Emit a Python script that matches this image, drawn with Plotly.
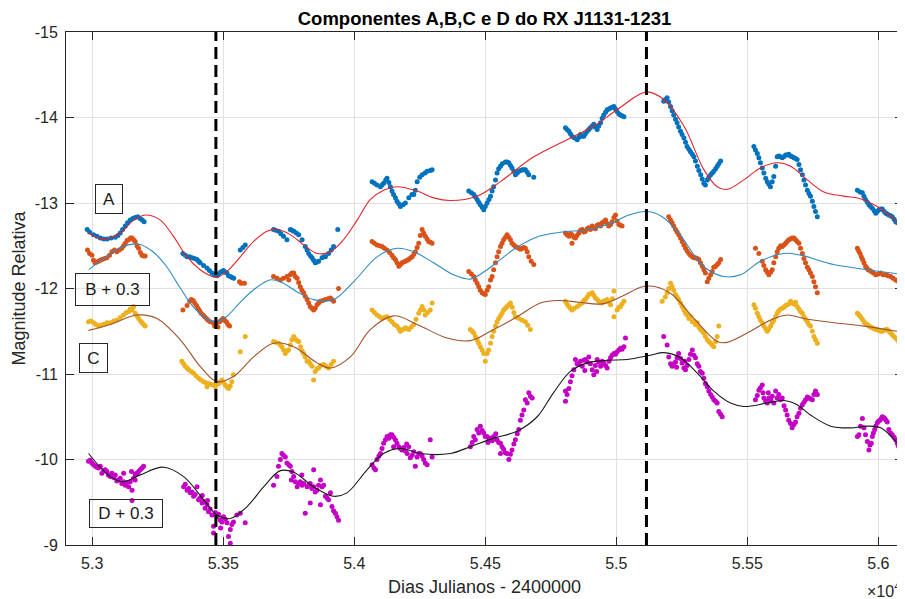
import plotly.graph_objects as go

# ---------------- data ----------------
x_tick_vals = [53000, 53500, 54000, 54500, 55000, 55500, 56000]
x_tick_text = ["5.3", "5.35", "5.4", "5.45", "5.5", "5.55", "5.6"]
y_tick_vals = [-15, -14, -13, -12, -11, -10, -9]
y_tick_text = ["-15", "-14", "-13", "-12", "-11", "-10", "-9"]
event_jd = [53472, 55115]

a_pts = [
    (52981,-12.69),(52990,-12.66),(53005,-12.63),(53018,-12.61),(53031,-12.59),(53044,-12.58),(53057,-12.58),
    (53072,-12.59),(53088,-12.60),(53098,-12.62),(53107,-12.65),(53116,-12.69),(53126,-12.73),(53135,-12.77),
    (53145,-12.80),(53155,-12.82),(53164,-12.83),(53174,-12.84),(53183,-12.82),(53191,-12.80),(53198,-12.78),
    (53346,-12.41),(53355,-12.39),(53362,-12.37),(53372,-12.37),(53381,-12.36),(53390,-12.35),(53400,-12.34),
    (53406,-12.32),(53412,-12.30),(53425,-12.27),(53438,-12.24),(53447,-12.21),(53457,-12.18),(53466,-12.16),
    (53476,-12.15),(53482,-12.17),(53489,-12.19),(53495,-12.20),(53501,-12.21),(53508,-12.19),(53514,-12.18),
    (53520,-12.15),(53527,-12.14),(53534,-12.13),(53540,-12.12),(53565,-12.45),(53575,-12.48),(53584,-12.51),
    (53692,-12.69),(53700,-12.68),(53711,-12.67),(53720,-12.64),(53730,-12.61),(53743,-12.57),(53756,-12.69),
    (53762,-12.68),(53769,-12.67),(53779,-12.65),(53788,-12.63),(53801,-12.57),(53813,-12.49),(53820,-12.45),
    (53826,-12.41),(53833,-12.38),(53839,-12.36),(53845,-12.33),(53851,-12.30),(53858,-12.31),(53864,-12.32),
    (53877,-12.36),(53884,-12.37),(53890,-12.37),(53902,-12.41),(53912,-12.45),(53921,-12.49),(53937,-12.69),
    (54068,-13.25),(54077,-13.23),(54087,-13.21),(54100,-13.19),(54106,-13.21),(54112,-13.23),(54120,-13.27),
    (54125,-13.29),(54132,-13.24),(54138,-13.19),(54144,-13.14),(54150,-13.10),(54157,-13.06),(54163,-13.02),
    (54170,-12.99),(54176,-12.96),(54186,-12.98),(54195,-13.00),(54208,-13.06),(54220,-13.10),(54227,-13.10),
    (54233,-13.15),(54240,-13.25),(54250,-13.30),(54259,-13.33),(54270,-13.35),(54278,-13.37),(54290,-13.38),
    (54297,-13.39),
    (54437,-13.14),(54447,-13.12),(54456,-13.10),(54463,-13.07),(54469,-13.04),(54475,-13.01),(54481,-12.98),
    (54488,-12.95),(54494,-12.92),(54500,-12.96),(54507,-13.00),(54514,-13.04),(54520,-13.08),(54526,-13.14),
    (54532,-13.19),(54539,-13.27),(54545,-13.35),(54551,-13.40),(54558,-13.43),(54565,-13.46),(54577,-13.48),
    (54583,-13.48),(54590,-13.47),(54596,-13.44),(54602,-13.41),(54609,-13.37),(54615,-13.33),(54622,-13.35),
    (54628,-13.37),(54635,-13.38),(54641,-13.39),(54647,-13.39),(54653,-13.39),(54660,-13.36),(54666,-13.33),
    (54685,-13.30),
    (54806,-13.88),(54812,-13.86),(54819,-13.84),(54825,-13.81),(54831,-13.78),(54840,-13.76),(54851,-13.74),
    (54857,-13.77),(54863,-13.80),(54870,-13.78),(54876,-13.78),(54882,-13.81),(54889,-13.84),(54895,-13.86),
    (54901,-13.88),(54908,-13.90),(54914,-13.92),(54920,-13.89),(54927,-13.86),(54933,-13.90),(54940,-13.94),
    (54946,-13.99),(54952,-14.03),(54959,-14.06),(54965,-14.09),(54972,-14.10),(54978,-14.11),(54985,-14.12),
    (54991,-14.13),(54997,-14.10),(55003,-14.07),(55010,-14.04),(55016,-14.03),(55022,-14.02),(55029,-14.01),
    (55181,-14.19),(55187,-14.21),(55194,-14.23),(55200,-14.18),(55207,-14.13),(55213,-14.08),(55219,-14.03),
    (55226,-13.98),(55232,-13.94),(55238,-13.89),(55245,-13.84),(55251,-13.80),(55258,-13.76),(55264,-13.71),
    (55270,-13.66),(55277,-13.63),(55283,-13.60),(55290,-13.57),(55296,-13.54),(55302,-13.49),(55309,-13.43),
    (55315,-13.38),(55322,-13.33),(55328,-13.28),(55334,-13.23),(55340,-13.21),(55347,-13.27),(55353,-13.30),
    (55360,-13.33),(55366,-13.35),(55372,-13.37),(55379,-13.40),(55385,-13.43),(55391,-13.46),(55398,-13.49),
    (55525,-13.66),(55531,-13.62),(55538,-13.58),(55544,-13.53),(55550,-13.47),(55557,-13.41),(55563,-13.35),
    (55570,-13.29),(55576,-13.25),(55582,-13.22),(55588,-13.19),(55595,-13.25),(55601,-13.31),(55608,-13.43),
    (55614,-13.54),(55620,-13.55),(55627,-13.54),(55633,-13.53),(55639,-13.54),(55646,-13.56),(55652,-13.56),
    (55658,-13.57),(55665,-13.55),(55671,-13.54),(55678,-13.53),(55684,-13.52),(55690,-13.51),(55697,-13.45),
    (55703,-13.39),(55710,-13.33),(55716,-13.27),(55722,-13.21),(55729,-13.15),(55735,-13.11),(55741,-13.08),
    (55748,-13.02),(55754,-12.96),(55760,-12.90),(55767,-12.84),
    (55920,-13.15),(55930,-13.13),(55939,-13.12),(55945,-13.08),(55951,-13.04),(55958,-13.01),(55964,-12.98),
    (55970,-12.96),(55977,-12.94),(55984,-12.91),(55990,-12.88),(55996,-12.90),(56002,-12.92),(56009,-12.93),
    (56015,-12.93),(56022,-12.90),(56028,-12.88),(56034,-12.87),(56040,-12.86),(56047,-12.85),(56053,-12.84),
    (56060,-12.81),(56066,-12.78),(56072,-12.77),(56078,-12.77),
]

b_pts = [
    (52982,-12.45),(52990,-12.41),(52999,-12.39),(53005,-12.33),(53011,-12.30),(53018,-12.31),(53024,-12.32),
    (53031,-12.33),(53037,-12.34),(53047,-12.35),(53056,-12.36),(53066,-12.39),(53075,-12.43),(53085,-12.45),
    (53094,-12.43),(53104,-12.45),(53113,-12.47),(53120,-12.50),(53126,-12.53),(53133,-12.56),(53139,-12.57),
    (53146,-12.59),(53152,-12.59),(53158,-12.57),(53164,-12.55),(53171,-12.50),(53177,-12.47),(53184,-12.42),
    (53190,-12.39),(53196,-12.38),(53202,-12.38),
    (53346,-11.75),(53362,-11.80),(53372,-11.85),(53378,-11.87),(53385,-11.86),(53391,-11.83),(53398,-11.80),
    (53404,-11.77),(53410,-11.74),(53416,-11.71),(53423,-11.69),(53429,-11.67),(53436,-11.65),(53442,-11.63),
    (53450,-11.61),(53461,-11.60),(53467,-11.56),(53473,-11.59),(53480,-11.55),(53486,-11.61),(53492,-11.63),
    (53499,-11.65),(53505,-11.63),(53512,-11.61),(53518,-11.58),(53524,-11.56),(53562,-12.08),(53568,-12.06),
    (53581,-12.06),
    (53692,-12.14),(53705,-12.12),(53718,-12.10),(53730,-12.12),(53743,-12.14),(53750,-12.10),(53756,-12.16),
    (53762,-12.18),(53769,-12.18),(53775,-12.14),(53782,-12.12),(53788,-12.07),(53794,-12.02),(53800,-11.98),
    (53807,-11.95),(53813,-11.91),(53820,-11.87),(53826,-11.83),(53832,-11.79),(53838,-11.77),(53845,-11.75),
    (53851,-11.77),(53858,-11.81),(53864,-11.83),(53871,-11.85),(53880,-11.86),(53890,-11.87),(53900,-11.88),
    (53909,-11.89),(53915,-11.87),(53921,-11.85),(53940,-12.00),
    (54068,-12.55),(54077,-12.53),(54087,-12.51),(54097,-12.50),(54106,-12.49),(54115,-12.47),(54125,-12.45),
    (54135,-12.42),(54144,-12.39),(54150,-12.36),(54157,-12.34),(54163,-12.30),(54170,-12.26),(54176,-12.28),
    (54182,-12.30),(54189,-12.31),(54195,-12.32),(54202,-12.33),(54208,-12.34),(54215,-12.36),(54221,-12.37),
    (54227,-12.40),(54233,-12.43),(54240,-12.48),(54246,-12.53),(54252,-12.62),(54259,-12.69),(54265,-12.65),
    (54271,-12.61),(54278,-12.58),(54284,-12.55),(54290,-12.54),(54297,-12.53),
    (54437,-12.20),(54447,-12.17),(54456,-12.14),(54462,-12.10),(54469,-12.06),(54475,-12.02),(54481,-11.98),
    (54488,-11.95),(54494,-11.94),(54500,-11.93),(54507,-11.98),(54513,-12.02),(54520,-12.10),(54526,-12.14),
    (54532,-12.22),(54539,-12.30),(54545,-12.37),(54551,-12.43),(54558,-12.49),(54564,-12.53),(54570,-12.57),
    (54577,-12.60),(54583,-12.63),(54590,-12.60),(54596,-12.57),(54602,-12.53),(54609,-12.51),(54615,-12.49),
    (54622,-12.48),(54628,-12.47),(54634,-12.46),(54641,-12.47),(54647,-12.48),(54653,-12.47),(54660,-12.43),
    (54666,-12.37),(54675,-12.32),(54685,-12.28),
    (54806,-12.65),(54812,-12.63),(54819,-12.61),(54825,-12.64),(54831,-12.63),(54838,-12.60),(54844,-12.59),
    (54850,-12.62),(54857,-12.65),(54863,-12.68),(54870,-12.69),(54876,-12.66),(54882,-12.67),(54889,-12.70),
    (54895,-12.71),(54901,-12.69),(54908,-12.73),(54914,-12.71),(54920,-12.70),(54927,-12.74),(54933,-12.75),
    (54940,-12.73),(54946,-12.77),(54952,-12.78),(54959,-12.80),(54965,-12.76),(54971,-12.73),(54978,-12.75),
    (54984,-12.78),(54991,-12.83),(54997,-12.86),(55003,-12.79),(55010,-12.75),(55016,-12.74),(55022,-12.73),
    (54831,-12.53),
    (55200,-12.84),(55207,-12.80),(55213,-12.77),(55219,-12.73),(55226,-12.69),(55232,-12.66),(55238,-12.63),
    (55245,-12.59),(55251,-12.55),(55258,-12.51),(55264,-12.47),(55270,-12.44),(55277,-12.41),(55283,-12.39),
    (55290,-12.37),(55296,-12.36),(55302,-12.36),(55309,-12.35),(55315,-12.34),(55321,-12.30),(55328,-12.26),
    (55334,-12.22),(55340,-12.18),(55347,-12.08),(55353,-12.12),(55360,-12.16),(55366,-12.20),(55372,-12.25),
    (55379,-12.26),(55385,-12.28),(55391,-12.30),(55398,-12.34),
    (55531,-12.47),(55544,-12.41),(55557,-12.32),(55563,-12.27),(55570,-12.22),(55576,-12.19),(55582,-12.16),
    (55589,-12.19),(55595,-12.22),(55601,-12.30),(55608,-12.37),(55614,-12.43),(55620,-12.47),(55627,-12.50),
    (55633,-12.49),(55640,-12.51),(55646,-12.53),(55652,-12.55),(55658,-12.57),(55665,-12.58),(55671,-12.59),
    (55678,-12.59),(55684,-12.57),(55690,-12.55),(55697,-12.53),(55703,-12.47),(55710,-12.41),(55716,-12.35),
    (55722,-12.30),(55729,-12.25),(55735,-12.22),(55741,-12.18),(55748,-12.14),(55754,-12.08),(55760,-12.02),
    (55767,-11.95),
    (55920,-12.47),(55925,-12.44),(55930,-12.41),(55935,-12.37),(55940,-12.34),(55945,-12.30),(55951,-12.26),
    (55956,-12.24),(55961,-12.22),(55967,-12.21),(55973,-12.20),(55981,-12.18),(55990,-12.16),(56000,-12.17),
    (56009,-12.18),(56018,-12.16),(56028,-12.16),(56037,-12.15),(56047,-12.14),(56056,-12.12),(56066,-12.10),
    (56072,-12.09),(56078,-12.08),
]

c_pts = [
    (52986,-11.61),(52995,-11.62),(53005,-11.60),(53014,-11.58),(53024,-11.56),(53033,-11.57),(53043,-11.58),
    (53056,-11.60),(53069,-11.60),(53082,-11.62),(53094,-11.63),(53107,-11.66),(53120,-11.69),(53130,-11.72),
    (53139,-11.73),(53145,-11.76),(53152,-11.75),(53158,-11.79),(53164,-11.71),(53171,-11.68),(53177,-11.65),
    (53184,-11.62),(53190,-11.60),(53196,-11.58),(53202,-11.56),
    (53342,-11.15),(53349,-11.12),(53355,-11.09),(53362,-11.07),(53368,-11.05),(53378,-11.03),(53387,-11.01),
    (53396,-10.98),(53406,-10.95),(53415,-10.93),(53425,-10.91),(53432,-10.90),(53438,-10.85),(53444,-10.89),
    (53452,-10.88),(53463,-10.87),(53470,-10.85),(53476,-10.89),(53482,-10.89),(53489,-10.91),(53495,-10.93),
    (53501,-10.90),(53508,-10.87),(53514,-10.85),(53520,-10.83),(53527,-10.86),(53533,-10.91),(53539,-10.99),
    (53565,-11.26),(53584,-11.44),(53692,-11.38),(53700,-11.37),(53711,-11.36),(53718,-11.34),(53724,-11.32),
    (53730,-11.28),(53737,-11.24),(53743,-11.27),(53749,-11.28),(53756,-11.34),(53762,-11.40),(53769,-11.44),
    (53775,-11.41),(53782,-11.39),(53788,-11.38),(53795,-11.32),(53801,-11.27),(53807,-11.24),(53813,-11.20),
    (53820,-11.15),(53826,-11.15),(53832,-11.12),(53839,-11.09),(53845,-10.93),(53851,-11.03),(53858,-11.06),
    (53864,-11.07),(53872,-11.10),(53883,-11.11),(53892,-11.09),(53902,-11.07),(53912,-11.11),(53921,-11.15),
    (54068,-11.75),(54077,-11.72),(54087,-11.69),(54097,-11.67),(54106,-11.65),(54115,-11.66),(54125,-11.67),
    (54134,-11.64),(54144,-11.61),(54153,-11.58),(54163,-11.56),(54170,-11.53),(54176,-11.50),(54186,-11.52),
    (54195,-11.54),(54202,-11.53),(54208,-11.52),(54218,-11.55),(54227,-11.58),(54236,-11.64),(54246,-11.71),
    (54252,-11.75),(54259,-11.79),(54265,-11.75),(54271,-11.69),(54280,-11.72),(54290,-11.75),(54297,-11.83),
    (54443,-11.52),(54450,-11.50),(54456,-11.48),(54462,-11.44),(54469,-11.40),(54475,-11.36),(54481,-11.32),
    (54488,-11.28),(54494,-11.24),(54500,-11.15),(54507,-11.24),(54513,-11.28),(54520,-11.36),(54526,-11.44),
    (54532,-11.50),(54539,-11.56),(54545,-11.61),(54551,-11.65),(54558,-11.68),(54564,-11.71),(54570,-11.75),
    (54577,-11.77),(54583,-11.79),(54590,-11.81),(54596,-11.83),(54603,-11.78),(54609,-11.72),(54615,-11.67),
    (54622,-11.66),(54628,-11.65),(54641,-11.63),(54653,-11.61),(54662,-11.57),(54672,-11.52),
    (54806,-11.85),(54812,-11.82),(54819,-11.79),(54825,-11.77),(54831,-11.75),(54840,-11.77),(54851,-11.79),
    (54860,-11.81),(54870,-11.83),(54876,-11.86),(54882,-11.87),(54889,-11.90),(54895,-11.93),(54901,-11.94),
    (54908,-11.95),(54914,-11.92),(54920,-11.89),(54927,-11.87),(54933,-11.85),(54940,-11.84),(54946,-11.83),
    (54952,-11.85),(54959,-11.86),(54965,-11.87),(54972,-11.84),(54978,-11.81),(54985,-11.88),(54991,-11.97),
    (54991,-11.67),(55003,-11.75),(55010,-11.78),(55016,-11.79),(55022,-11.82),(55029,-11.85),
    (55175,-11.85),(55187,-11.90),(55194,-11.95),(55200,-12.00),(55207,-12.06),(55213,-12.02),(55219,-11.98),
    (55226,-11.93),(55232,-11.90),(55238,-11.87),(55245,-11.83),(55251,-11.79),(55258,-11.75),(55264,-11.71),
    (55270,-11.69),(55277,-11.65),(55283,-11.67),(55290,-11.61),(55296,-11.62),(55302,-11.58),(55309,-11.60),
    (55315,-11.55),(55321,-11.52),(55328,-11.50),(55334,-11.48),(55340,-11.44),(55347,-11.40),(55353,-11.38),
    (55360,-11.36),(55366,-11.34),(55372,-11.32),(55379,-11.38),(55385,-11.44),(55391,-11.56),
    (55525,-11.81),(55531,-11.77),(55538,-11.71),(55544,-11.67),(55550,-11.63),(55557,-11.60),(55563,-11.56),
    (55570,-11.53),(55576,-11.50),(55582,-11.53),(55589,-11.56),(55595,-11.60),(55601,-11.63),(55608,-11.67),
    (55614,-11.71),(55620,-11.74),(55627,-11.76),(55633,-11.77),(55640,-11.78),(55646,-11.80),(55652,-11.81),
    (55658,-11.82),(55665,-11.85),(55671,-11.83),(55678,-11.82),(55684,-11.84),(55690,-11.79),(55697,-11.76),
    (55703,-11.73),(55710,-11.71),(55716,-11.67),(55722,-11.64),(55729,-11.61),(55735,-11.58),(55741,-11.56),
    (55748,-11.50),(55754,-11.44),(55760,-11.40),(55767,-11.36),
    (55920,-11.71),(55926,-11.69),(55932,-11.67),(55939,-11.64),(55945,-11.61),(55951,-11.59),(55958,-11.58),
    (55964,-11.56),(55970,-11.55),(55977,-11.54),(55984,-11.53),(55990,-11.52),(55996,-11.52),(56003,-11.51),
    (56009,-11.50),(56015,-11.50),(56022,-11.51),(56028,-11.52),(56034,-11.52),(56040,-11.50),(56047,-11.48),
    (56053,-11.46),(56059,-11.44),(56066,-11.42),(56072,-11.40),(56078,-11.38),
]

d_pts = [
    (52986,-9.98),(52992,-9.99),(52999,-9.96),(53005,-9.94),(53012,-9.92),(53018,-9.91),(53024,-9.90),
    (53031,-9.92),(53037,-9.84),(53044,-9.87),(53050,-9.88),(53056,-9.86),(53062,-9.82),(53069,-9.80),
    (53075,-9.84),(53082,-9.79),(53088,-9.82),(53094,-9.75),(53100,-9.76),(53107,-9.78),(53113,-9.72),
    (53120,-9.74),(53126,-9.70),(53132,-9.73),(53139,-9.68),(53145,-9.74),(53152,-9.64),(53152,-9.52),
    (53158,-9.78),(53164,-9.83),(53171,-9.84),(53177,-9.86),(53183,-9.88),(53190,-9.90),(53196,-9.92),
    (53150,-9.86),(53164,-9.76),(53120,-9.84),
    (53349,-9.68),(53355,-9.71),(53362,-9.64),(53368,-9.66),(53374,-9.61),(53381,-9.62),(53387,-9.57),
    (53393,-9.59),(53400,-9.68),(53406,-9.53),(53412,-9.55),(53419,-9.49),(53425,-9.51),(53431,-9.43),
    (53438,-9.47),(53444,-9.39),(53450,-9.42),(53457,-9.35),(53463,-9.22),(53463,-9.14),(53470,-9.38),
    (53476,-9.33),(53482,-9.36),(53489,-9.29),(53495,-9.27),(53501,-9.33),(53508,-9.30),(53514,-9.26),
    (53520,-9.10),(53527,-9.18),(53527,-9.02),(53533,-9.24),(53539,-9.27),(53552,-9.35),(53565,-9.37),
    (53584,-9.26),(53420,-9.58),(53440,-9.52),(53490,-9.20),
    (53692,-9.70),(53705,-9.80),(53711,-9.92),(53718,-10.00),(53724,-10.07),(53730,-10.05),(53737,-10.03),
    (53743,-9.96),(53750,-9.94),(53756,-9.92),(53762,-9.86),(53769,-9.80),(53775,-9.74),(53782,-9.68),
    (53788,-9.72),(53794,-9.74),(53801,-9.70),(53807,-9.72),(53813,-9.37),(53820,-9.68),(53826,-9.70),
    (53832,-9.49),(53832,-9.72),(53838,-9.66),(53845,-9.68),(53845,-9.88),(53851,-9.62),(53858,-9.64),
    (53864,-9.70),(53871,-9.76),(53871,-9.47),(53877,-9.68),(53883,-9.70),(53890,-9.57),(53896,-9.55),
    (53902,-9.53),(53909,-9.61),(53915,-9.45),(53921,-9.40),(53928,-9.37),(53934,-9.33),(53940,-9.29),
    (53800,-9.82),(53760,-9.76),
    (54068,-9.94),(54075,-9.90),(54081,-9.88),(54087,-10.00),(54094,-10.04),(54100,-10.07),(54106,-10.13),
    (54112,-10.19),(54119,-10.23),(54125,-10.27),(54132,-10.25),(54138,-10.29),(54144,-10.29),(54150,-10.26),
    (54157,-10.23),(54163,-10.19),(54170,-10.15),(54176,-10.13),(54182,-10.11),(54189,-10.14),(54195,-10.10),
    (54202,-10.07),(54208,-10.15),(54214,-10.02),(54221,-10.05),(54227,-10.09),(54233,-9.92),(54240,-10.03),
    (54246,-10.07),(54252,-10.07),(54259,-10.04),(54265,-10.00),(54271,-9.96),(54278,-9.94),(54290,-10.23),
    (54297,-10.03),(54150,-10.15),(54200,-10.18),
    (54443,-10.15),(54450,-10.20),(54456,-10.27),(54462,-10.23),(54469,-10.35),(54475,-10.31),(54481,-10.39),
    (54488,-10.34),(54494,-10.31),(54500,-10.27),(54507,-10.27),(54513,-10.25),(54520,-10.25),(54526,-10.22),
    (54532,-10.27),(54539,-10.24),(54545,-10.23),(54551,-10.20),(54558,-10.19),(54558,-10.07),(54564,-10.15),
    (54570,-10.12),(54577,-10.08),(54583,-10.07),(54590,-10.00),(54596,-10.06),(54602,-10.11),(54609,-10.18),
    (54615,-10.23),(54622,-10.30),(54628,-10.35),(54634,-10.46),(54640,-10.52),(54647,-10.58),(54653,-10.70),
    (54660,-10.66),(54666,-10.78),(54672,-10.74),(54679,-10.72),(54540,-10.30),(54510,-10.20),
    (54806,-10.68),(54812,-10.76),(54806,-10.80),(54819,-10.83),(54825,-10.91),(54831,-10.98),(54838,-11.05),
    (54844,-11.17),(54850,-11.12),(54857,-11.11),(54863,-11.15),(54870,-11.09),(54876,-11.16),(54882,-11.17),
    (54889,-11.14),(54895,-11.20),(54901,-11.12),(54908,-11.05),(54914,-10.99),(54920,-11.10),(54927,-11.17),
    (54933,-11.14),(54940,-11.09),(54946,-11.15),(54952,-11.13),(54959,-11.10),(54965,-11.07),(54972,-11.15),
    (54978,-11.19),(54984,-11.22),(54991,-11.24),(54997,-11.23),(55003,-11.26),(55010,-11.28),(55016,-11.30),
    (55022,-11.29),(55029,-11.32),(55035,-11.42),(54925,-11.03),(54880,-11.04),
    (55181,-11.44),(55194,-11.34),(55200,-11.20),(55207,-11.12),(55213,-11.09),(55219,-11.12),(55226,-11.14),
    (55232,-11.19),(55238,-11.24),(55245,-11.18),(55251,-11.13),(55258,-11.07),(55264,-11.05),(55270,-11.10),
    (55277,-11.17),(55283,-11.23),(55290,-11.28),(55296,-11.22),(55302,-11.19),(55309,-11.12),(55315,-11.09),
    (55321,-11.03),(55328,-11.01),(55334,-10.95),(55340,-10.89),(55347,-10.85),(55353,-10.80),(55360,-10.76),
    (55366,-10.73),(55372,-10.70),(55379,-10.68),(55385,-10.66),(55391,-10.56),(55398,-10.53),(55404,-10.50),
    (55230,-11.08),(55260,-11.15),
    (55531,-10.70),(55538,-10.75),(55544,-10.81),(55550,-10.84),(55557,-10.87),(55563,-10.72),(55570,-10.68),
    (55576,-10.66),(55582,-10.72),(55589,-10.70),(55595,-10.74),(55601,-10.66),(55608,-10.80),(55614,-10.72),
    (55620,-10.76),(55627,-10.70),(55633,-10.72),(55640,-10.63),(55646,-10.58),(55652,-10.52),(55658,-10.46),
    (55665,-10.42),(55671,-10.37),(55678,-10.41),(55684,-10.44),(55690,-10.50),(55697,-10.54),(55703,-10.60),
    (55710,-10.64),(55716,-10.67),(55722,-10.70),(55729,-10.73),(55735,-10.72),(55741,-10.71),(55748,-10.70),
    (55754,-10.76),(55760,-10.80),(55767,-10.76),(55580,-10.78),(55560,-10.78),
    (55920,-10.27),(55926,-10.29),(55932,-10.39),(55939,-10.48),(55945,-10.37),(55951,-10.29),(55958,-10.21),
    (55964,-10.11),(55968,-10.17),(55973,-10.19),(55977,-10.27),(55981,-10.31),(55986,-10.35),(55990,-10.39),
    (55996,-10.43),(56001,-10.45),(56006,-10.46),(56011,-10.48),(56015,-10.50),(56020,-10.49),(56024,-10.48),
    (56029,-10.46),(56034,-10.44),(56040,-10.35),(56047,-10.31),(56053,-10.29),(56060,-10.26),(56066,-10.23),
    (56072,-10.19),(56075,-10.17),(56078,-10.15),
]

fit_a = [
    (52985,-12.65),(53042,-12.58),(53107,-12.65),(53158,-12.80),(53202,-12.86),(53260,-12.80),(53310,-12.61),
    (53362,-12.37),(53412,-12.22),(53451,-12.15),(53476,-12.13),(53514,-12.20),(53565,-12.37),(53616,-12.55),
    (53667,-12.67),(53705,-12.69),(53756,-12.63),(53807,-12.51),(53858,-12.41),(53909,-12.43),(53959,-12.57),
    (54011,-12.80),(54061,-13.04),(54112,-13.15),(54163,-13.19),(54240,-13.14),(54303,-13.06),(54367,-13.03),
    (54469,-13.08),(54558,-13.25),(54685,-13.54),(54812,-13.74),(54914,-13.90),(55003,-14.09),(55115,-14.30),
    (55181,-14.21),(55258,-13.90),(55334,-13.39),(55385,-13.19),(55423,-13.16),(55487,-13.27),(55550,-13.41),
    (55614,-13.47),(55665,-13.43),(55729,-13.27),(55792,-13.13),(55868,-13.08),(55932,-13.05),(55996,-12.96),
    (56072,-12.78),
]
fit_b = [
    (52987,-12.22),(53053,-12.37),(53117,-12.49),(53174,-12.52),(53232,-12.43),(53283,-12.26),(53333,-12.02),
    (53384,-11.79),(53435,-11.65),(53467,-11.61),(53512,-11.67),(53562,-11.83),(53614,-11.98),(53677,-12.10),
    (53718,-12.08),(53782,-11.96),(53845,-11.87),(53921,-11.87),(53998,-12.08),(54087,-12.37),(54163,-12.47),
    (54227,-12.43),(54303,-12.30),(54379,-12.16),(54443,-12.11),(54507,-12.22),(54558,-12.34),(54615,-12.47),
    (54704,-12.61),(54793,-12.66),(54895,-12.69),(54984,-12.77),(55048,-12.86),(55118,-12.90),(55175,-12.84),
    (55238,-12.65),(55302,-12.37),(55340,-12.24),(55410,-12.14),(55474,-12.16),(55550,-12.32),(55639,-12.41),
    (55703,-12.39),(55830,-12.28),(55958,-12.22),(56078,-12.17),
]
fit_c = [
    (52986,-11.51),(53069,-11.58),(53171,-11.69),(53247,-11.65),(53336,-11.40),(53412,-11.09),(53476,-10.91),
    (53539,-10.97),(53616,-11.20),(53692,-11.36),(53769,-11.32),(53858,-11.13),(53909,-11.07),(53985,-11.20),
    (54061,-11.52),(54150,-11.68),(54240,-11.58),(54354,-11.42),(54443,-11.39),(54532,-11.52),(54622,-11.67),
    (54710,-11.83),(54780,-11.86),(54857,-11.84),(54946,-11.82),(55022,-11.91),(55099,-12.02),(55150,-12.02),
    (55213,-11.93),(55302,-11.63),(55385,-11.38),(55423,-11.37),(55512,-11.50),(55588,-11.63),(55652,-11.69),
    (55716,-11.65),(55830,-11.60),(55945,-11.56),(56072,-11.50),
]
fit_d = [
    (52986,-10.07),(53069,-9.80),(53120,-9.74),(53183,-9.82),(53272,-9.91),(53349,-9.80),(53425,-9.53),
    (53476,-9.35),(53527,-9.31),(53591,-9.45),(53654,-9.68),(53718,-9.87),(53769,-9.85),(53845,-9.68),
    (53921,-9.57),(53972,-9.61),(54049,-9.88),(54112,-10.07),(54176,-10.13),(54252,-10.07),(54367,-10.07),
    (54443,-10.15),(54532,-10.25),(54621,-10.33),(54698,-10.50),(54760,-10.78),(54825,-11.03),(54889,-11.13),
    (54965,-11.16),(55042,-11.17),(55130,-11.22),(55181,-11.25),(55245,-11.19),(55309,-11.01),(55372,-10.80),
    (55436,-10.66),(55487,-10.62),(55576,-10.66),(55639,-10.69),(55690,-10.64),(55741,-10.52),(55818,-10.39),
    (55894,-10.37),(55958,-10.39),(56009,-10.37),(56072,-10.19),
]

labels = [("A", 53065, -13.05, 24, 26), ("B + 0.3", 53076, -11.99, 71, 29),
          ("C", 53006, -11.19, 25, 26), ("D + 0.3", 53128, -9.37, 70, 25)]

# ---------------- figure ----------------
FONT = "Liberation Sans, Arial, Helvetica, sans-serif"
fig = go.Figure()

scatter_specs = [(a_pts, "#0072BD"), (b_pts, "#D95319"), (c_pts, "#EDB120"), (d_pts, "#C400C4")]
for pts, col in scatter_specs:
    fig.add_trace(go.Scatter(x=[p[0] for p in pts], y=[p[1] for p in pts], mode="markers",
                             marker=dict(size=5, color=col, line=dict(width=0)), showlegend=False))

fit_specs = [(fit_a, "#E3242B"), (fit_b, "#2C8BC4"), (fit_c, "#A0522D"), (fit_d, "#1a1a1a")]
for pts, col in fit_specs:
    fig.add_trace(go.Scatter(x=[p[0] for p in pts], y=[p[1] for p in pts], mode="lines",
                             line=dict(color=col, width=1.1, shape="spline", smoothing=1.0),
                             showlegend=False))

for e in event_jd:
    fig.add_vline(x=e, line=dict(color="black", width=3, dash="12px,6px"), layer="above")

for txt, xx, yy, w, h in labels:
    fig.add_annotation(x=xx, y=yy, xref="x", yref="y", text=txt, showarrow=False,
                       font=dict(family=FONT, size=17, color="#1a1a1a"),
                       bordercolor="#262626", borderwidth=1, borderpad=1,
                       width=w, height=h, align="center", valign="middle")

fig.add_annotation(xref="paper", yref="paper", x=1.0, y=0, yshift=-45, xshift=-1, xanchor="right",
                   yanchor="middle", text="×10<sup>4</sup>", showarrow=False,
                   font=dict(family=FONT, size=16, color="#262626"))

axis_common = dict(showgrid=True, gridcolor="#e1e1e1", gridwidth=1, zeroline=False,
                   showline=True, linecolor="#262626", linewidth=1, mirror="allticks",
                   ticks="inside", ticklen=8, tickcolor="#262626", automargin=False,
                   ticklabelstandoff=4,
                   tickfont=dict(family=FONT, size=16, color="#262626"))

fig.update_xaxes(range=[52900, 56094], tickvals=x_tick_vals, ticktext=x_tick_text,
                 title=dict(text="Dias Julianos - 2400000", font=dict(family=FONT, size=18, color="#262626"),
                            standoff=9),
                 **axis_common)
fig.update_yaxes(range=[-9, -15], tickvals=y_tick_vals, ticktext=y_tick_text,
                 title=dict(text="Magnitude Relativa", font=dict(family=FONT, size=18, color="#262626"),
                            standoff=4),
                 **axis_common)

# the page body adds an 8px offset, so the figure is 8px smaller on each axis
fig.update_layout(
    width=897, height=591,
    margin=dict(l=58, r=2, t=24, b=54, autoexpand=False),
    plot_bgcolor="white", paper_bgcolor="white",
    title=dict(text="<b>Componentes A,B,C e D do RX J1131-1231</b>", x=0.5, xref="paper",
               xanchor="center", y=1 - 11 / 591, yanchor="middle", yref="container",
               automargin=False, font=dict(family=FONT, size=18.5, color="black")),
    showlegend=False,
)

fig.write_html("out.html")
